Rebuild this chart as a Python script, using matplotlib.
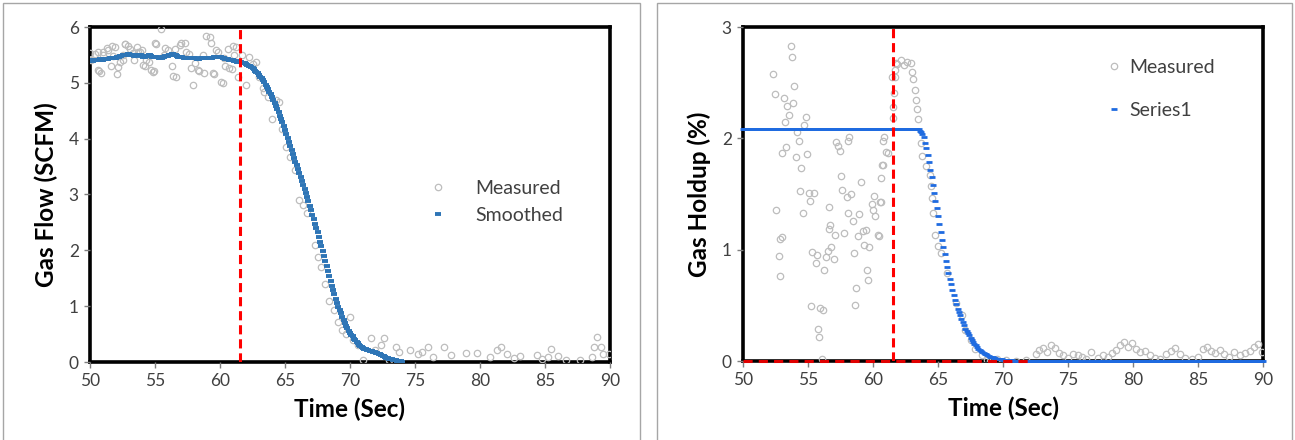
import numpy as np
import matplotlib
matplotlib.use("Agg")
import matplotlib.pyplot as plt
from matplotlib.lines import Line2D
from matplotlib.patches import Rectangle

plt.rcParams["font.family"] = ["Lato", "DejaVu Sans"]

# ---------------- left panel: gas flow ----------------
flow_meas_t = [
    50.0, 50.06, 50.4, 50.64, 50.64, 50.7, 50.84, 51.0, 51.02, 51.28, 51.4, 51.6, 51.66, 51.79, 51.9,
    52.05, 52.17, 52.3, 52.5, 52.55, 52.68, 52.7, 52.9, 53.1, 53.32, 53.4, 53.58, 53.7, 53.83, 54.0,
    54.09, 54.2, 54.34, 54.5, 54.73, 54.85, 54.9, 54.98, 55.1, 55.44, 55.7, 55.75, 56.0, 56.3, 56.39,
    56.51, 56.6, 56.9, 57.02, 57.28, 57.41, 57.6, 57.79, 57.92, 58.05, 58.3, 58.4, 58.68, 58.75, 58.94,
    59.2, 59.32, 59.45, 59.5, 59.7, 59.83, 60.09, 60.2, 60.34, 60.4, 60.6, 60.73, 60.9, 60.98, 61.11,
    61.2, 61.4, 61.7, 62.0, 62.2, 62.5, 62.8, 63.0, 63.3, 63.4, 63.7, 64.0, 64.3, 64.5, 64.8,
    65.1, 65.4, 65.8, 66.1, 66.4, 66.7, 67.3, 67.5, 67.8, 68.1, 68.4, 68.8, 69.1, 69.4, 69.7,
    70.0, 70.2, 70.6, 71.0, 71.6, 71.9, 72.4, 72.6, 73.0, 73.5, 73.8, 74.6, 75.2, 75.5, 76.0,
    76.4, 77.2, 77.8, 78.9, 79.8, 80.8, 81.3, 81.6, 82.1, 82.6, 83.1, 84.4, 84.8, 85.2, 85.5,
    86.0, 86.6, 87.7, 88.6, 88.8, 89.0, 89.3, 89.5, 89.9,
]
flow_meas_v = [
    5.53, 5.40, 5.52, 5.56, 5.23, 5.22, 5.18, 5.49, 5.56, 5.62, 5.58, 5.31, 5.66, 5.48, 5.64,
    5.16, 5.29, 5.37, 5.49, 5.41, 5.70, 5.70, 5.66, 5.61, 5.53, 5.40, 5.65, 5.55, 5.56, 5.58,
    5.32, 5.31, 5.41, 5.37, 5.23, 5.20, 5.22, 5.71, 5.70, 5.97, 5.49, 5.62, 5.58, 5.31, 5.13,
    5.60, 5.10, 5.68, 5.71, 5.71, 5.56, 5.52, 5.26, 4.96, 5.35, 5.23, 5.22, 5.50, 5.18, 5.84,
    5.82, 5.71, 5.17, 5.16, 5.58, 5.56, 5.02, 4.99, 5.44, 5.31, 5.61, 5.26, 5.25, 5.66, 5.50,
    5.64, 5.10, 5.49, 4.96, 5.46, 5.34, 5.37, 5.10, 4.90, 4.84, 4.75, 4.36, 4.69, 4.66, 4.18,
    3.85, 3.67, 3.43, 2.90, 2.81, 2.66, 2.09, 1.88, 1.70, 1.40, 1.10, 0.93, 0.72, 0.57, 0.51,
    0.81, 0.39, 0.30, 0.03, 0.43, 0.21, 0.30, 0.43, 0.03, 0.26, 0.18, 0.21, 0.15, 0.18, 0.27,
    0.09, 0.27, 0.12, 0.16, 0.16, 0.09, 0.22, 0.27, 0.15, 0.08, 0.10, 0.12, 0.06, 0.09, 0.24,
    0.10, 0.04, 0.04, 0.09, 0.27, 0.44, 0.27, 0.15, 0.15,
]
# smoothed gas flow, one value every 0.1 s from 50.0 to 74.0
flow_smooth_t = np.round(np.arange(50.0, 74.05, 0.1), 1)
flow_smooth_v = [
    5.40, 5.40, 5.39, 5.40, 5.40, 5.41, 5.40, 5.41, 5.42, 5.41,
    5.41, 5.42, 5.42, 5.43, 5.43, 5.44, 5.44, 5.45, 5.45, 5.45,
    5.45, 5.46, 5.47, 5.48, 5.48, 5.49, 5.49, 5.50, 5.50, 5.51,
    5.51, 5.50, 5.50, 5.49, 5.48, 5.48, 5.49, 5.50, 5.50, 5.49,
    5.48, 5.47, 5.47, 5.48, 5.48, 5.49, 5.49, 5.48, 5.47, 5.47,
    5.47, 5.46, 5.46, 5.45, 5.45, 5.45, 5.46, 5.47, 5.48, 5.48,
    5.48, 5.49, 5.50, 5.51, 5.51, 5.50, 5.49, 5.48, 5.47, 5.47,
    5.46, 5.46, 5.45, 5.45, 5.45, 5.45, 5.44, 5.44, 5.44, 5.44,
    5.44, 5.44, 5.43, 5.43, 5.43, 5.44, 5.44, 5.44, 5.44, 5.44,
    5.44, 5.44, 5.45, 5.45, 5.45, 5.46, 5.46, 5.47, 5.47, 5.47,
    5.47, 5.46, 5.45, 5.44, 5.43, 5.42, 5.42, 5.41, 5.41, 5.40,
    5.40, 5.39, 5.39, 5.38, 5.38, 5.37, 5.37, 5.36, 5.36, 5.35,
    5.33, 5.32, 5.31, 5.30, 5.28, 5.26, 5.24, 5.22, 5.20, 5.17,
    5.14, 5.11, 5.08, 5.05, 5.01, 4.97, 4.93, 4.89, 4.84, 4.80,
    4.75, 4.70, 4.64, 4.59, 4.53, 4.47, 4.41, 4.35, 4.29, 4.22,
    4.15, 4.08, 4.01, 3.94, 3.87, 3.80, 3.73, 3.66, 3.59, 3.52,
    3.45, 3.38, 3.31, 3.24, 3.17, 3.10, 3.03, 2.96, 2.88, 2.80,
    2.72, 2.64, 2.56, 2.48, 2.40, 2.32, 2.24, 2.15, 2.07, 1.98,
    1.90, 1.81, 1.72, 1.63, 1.54, 1.45, 1.37, 1.29, 1.21, 1.13,
    1.05, 0.99, 0.93, 0.87, 0.81, 0.75, 0.70, 0.65, 0.61, 0.56,
    0.52, 0.49, 0.46, 0.42, 0.39, 0.36, 0.34, 0.31, 0.29, 0.27,
    0.25, 0.24, 0.23, 0.22, 0.21, 0.20, 0.20, 0.19, 0.18, 0.18,
    0.17, 0.16, 0.15, 0.14, 0.12, 0.11, 0.10, 0.09, 0.08, 0.07,
    0.06, 0.06, 0.05, 0.04, 0.04, 0.03, 0.02, 0.02, 0.01, 0.01,
    0.00,
]

# ---------------- right panel: gas holdup ----------------
hold_meas_t = [
    53.67, 53.78, 52.32, 52.45, 53.16, 53.42, 53.85, 53.93, 53.54, 53.26, 54.18, 54.87, 54.69, 54.28, 53.34,
    53.0, 54.11, 54.92, 54.44, 57.17, 57.29, 57.47, 58.19, 58.06, 57.57, 54.36, 55.07, 55.43, 55.18, 52.52,
    54.62, 56.58, 57.62, 58.31, 57.98, 59.05, 60.10, 59.92, 59.97, 60.17, 60.53, 58.06, 58.95, 58.49, 59.21,
    59.46, 58.82, 57.75, 57.09, 56.71, 56.61, 60.35, 59.72, 59.33, 58.57, 52.83, 53.01, 52.78, 52.88, 55.33,
    55.69, 55.59, 56.35, 56.53, 56.78, 56.99, 56.22, 59.54, 59.59, 58.70, 58.65, 55.25, 55.89, 56.15, 55.76,
    55.81, 56.09, 60.86, 60.99, 61.12, 60.74, 60.61, 60.79, 61.68, 61.8, 61.88, 62.14, 62.39, 62.65, 62.91,
    63.03, 63.11, 63.24, 63.34, 63.41, 63.49, 61.63, 61.55, 61.5, 61.45, 61.7, 60.69, 60.6, 60.48, 63.67,
    63.8, 64.06, 64.36, 64.44, 64.51, 64.64, 64.77, 65.02, 65.2, 65.71, 66.35, 66.86, 67.11, 67.5, 67.88,
    68.39, 68.77, 69.0, 69.5, 70.2, 71.0, 71.8, 72.5, 72.8, 73.1, 73.4, 73.7, 74.0, 74.3, 74.6,
    75.0, 75.4, 75.8, 76.1, 76.4, 76.8, 77.3, 77.7, 78.1, 78.4, 78.7, 79.0, 79.3, 79.6, 79.9,
    80.2, 80.5, 80.9, 81.3, 81.7, 82.1, 82.5, 82.9, 83.2, 83.6, 84.0, 84.5, 85.0, 85.4, 85.7,
    86.0, 86.3, 86.7, 87.0, 87.4, 87.8, 88.2, 88.6, 89.0, 89.3, 89.6, 89.9,
]
hold_meas_v = [
    2.83, 2.73, 2.58, 2.40, 2.36, 2.29, 2.32, 2.47, 2.21, 2.15, 2.06, 2.19, 2.12, 1.98, 1.92,
    1.87, 1.83, 1.86, 1.73, 1.97, 1.93, 1.89, 2.01, 1.98, 1.66, 1.53, 1.51, 1.51, 1.44, 1.36,
    1.33, 1.38, 1.54, 1.50, 1.47, 1.61, 1.48, 1.41, 1.36, 1.30, 1.43, 1.33, 1.32, 1.26, 1.17,
    1.18, 1.12, 1.15, 1.13, 1.22, 1.19, 1.13, 1.02, 1.04, 0.97, 1.10, 1.11, 0.94, 0.76, 0.98,
    0.95, 0.88, 0.93, 0.99, 1.02, 0.92, 0.82, 0.82, 0.73, 0.66, 0.50, 0.49, 0.48, 0.46, 0.29,
    0.22, 0.02, 2.01, 1.88, 1.87, 1.76, 1.64, 1.98, 2.55, 2.68, 2.67, 2.70, 2.66, 2.69, 2.68,
    2.60, 2.53, 2.43, 2.34, 2.26, 2.17, 2.41, 2.28, 2.18, 2.55, 2.61, 1.76, 1.43, 1.12, 1.96,
    1.84, 1.75, 1.67, 1.57, 1.46, 1.33, 1.13, 1.03, 0.97, 0.79, 0.52, 0.41, 0.28, 0.19, 0.11,
    0.05, 0.01, 0.00, 0.02, 0.01, 0.00, 0.01, 0.06, 0.10, 0.12, 0.08, 0.14, 0.12, 0.07, 0.05,
    0.03, 0.06, 0.05, 0.04, 0.02, 0.08, 0.03, 0.05, 0.04, 0.07, 0.10, 0.14, 0.17, 0.13, 0.16,
    0.11, 0.08, 0.09, 0.05, 0.03, 0.02, 0.06, 0.09, 0.12, 0.06, 0.03, 0.02, 0.04, 0.11, 0.13,
    0.09, 0.07, 0.10, 0.06, 0.04, 0.08, 0.05, 0.07, 0.09, 0.13, 0.15, 0.08,
]
# Series1 (smoothed holdup): plateau, then values every 0.1 s from 63.5 to 71.9
hold_plateau = 2.08
hold_drop_v = [
    2.08, 2.07, 2.06, 2.04, 2.01,
    1.96, 1.91, 1.85, 1.79, 1.72, 1.65, 1.58, 1.51, 1.44, 1.37,
    1.30, 1.23, 1.16, 1.09, 1.02, 0.96, 0.90, 0.84, 0.79, 0.74,
    0.69, 0.64, 0.59, 0.55, 0.51, 0.47, 0.44, 0.41, 0.38, 0.35,
    0.32, 0.29, 0.27, 0.25, 0.23, 0.21, 0.19, 0.17, 0.155, 0.14,
    0.125, 0.11, 0.10, 0.09, 0.08, 0.07, 0.065, 0.06, 0.05, 0.045,
    0.04, 0.036, 0.032, 0.028, 0.025, 0.022, 0.02, 0.018, 0.016, 0.014,
    0.012, 0.011, 0.01, 0.009, 0.008, 0.007, 0.006, 0.005, 0.004, 0.004,
    0.003, 0.003, 0.002, 0.002, 0.002, 0.001, 0.001, 0.001, 0.001, 0.0,
]
hold_t = np.round(np.arange(50.0, 90.05, 0.1), 1)
n_plateau = int(round((63.5 - 50.0) / 0.1))
hold_v = np.concatenate([
    np.full(n_plateau, hold_plateau),
    hold_drop_v,
    np.zeros(len(hold_t) - n_plateau - len(hold_drop_v)),
])

cutoff_time = 61.5

# ---------------- styling ----------------
W, H = 1295, 440
fig = plt.figure(figsize=(W / 100, H / 100), dpi=100)
for x0, x1 in [(3, 640), (657, 1292)]:
    fig.patches.append(Rectangle((x0 / W, -0.01), (x1 - x0) / W, (H - 3) / H + 0.01,
                                 transform=fig.transFigure, fill=False,
                                 ec="#A6A6A6", lw=1.0))

ax1 = fig.add_axes([90 / W, 78 / H, 520 / W, 335 / H])
ax2 = fig.add_axes([743 / W, 79 / H, 520 / W, 334 / H])

meas_style = dict(ls="", marker="o", mfc="none", mec="#BDBDBD", ms=4.6, mew=0.9)
smooth_style = dict(ls="", marker="_", color="#2E75B6", ms=4.8, mew=2.8)
series_style = dict(ls="", marker="_", color="#1F6BE0", ms=4.6, mew=2.0)

# left
ax1.plot(flow_meas_t, flow_meas_v, zorder=2, **meas_style)
ax1.plot(flow_smooth_t, flow_smooth_v, zorder=3, **smooth_style)
ax1.axvline(cutoff_time, color="#FF0000", lw=2.2, ls=(0, (3, 1.6)), zorder=4)
ax1.set_ylim(0, 6)
ax1.set_yticks(range(0, 7))
ax1.set_ylabel("Gas Flow (SCFM)", fontsize=17.5, fontweight="bold", labelpad=8)

# right
ax2.plot(hold_meas_t, hold_meas_v, zorder=2, **meas_style)
ax2.plot(hold_t, hold_v, zorder=3, clip_on=False, **series_style)
ax2.axvline(cutoff_time, color="#FF0000", lw=2.2, ls=(0, (3, 1.6)), zorder=4)
ax2.plot([50, 72], [0, 0], color="#E00000", lw=2.2, ls=(0, (3, 2)), zorder=5, clip_on=False)
ax2.set_ylim(0, 3)
ax2.set_yticks(range(0, 4))
ax2.set_ylabel("Gas Holdup (%)", fontsize=17.5, fontweight="bold", labelpad=8)

for ax in (ax1, ax2):
    ax.set_xlim(50, 90)
    ax.set_xticks(range(50, 91, 5))
    ax.set_xlabel("Time (Sec)", fontsize=17.5, fontweight="bold", labelpad=6)
    for side in ("top", "bottom", "left", "right"):
        ax.spines[side].set_linewidth(2.6)
        ax.spines[side].set_color("black")
        ax.spines[side].set_zorder(1)
    ax.tick_params(direction="out", length=4, width=1, color="#7F7F7F",
                   labelsize=12.5, labelcolor="#404040", pad=4)

h_meas = Line2D([], [], **meas_style)
h_smooth = Line2D([], [], **smooth_style)
h_series = Line2D([], [], **series_style)

ax1.legend([h_meas, h_smooth], ["Measured", "Smoothed"], loc="center left",
           bbox_to_anchor=(0.617, 0.478), frameon=False, fontsize=14,
           handlelength=1.0, handletextpad=1.4, labelspacing=0.55,
           labelcolor="#404040")
ax2.legend([h_meas, h_series], ["Measured", "Series1"], loc="center left",
           bbox_to_anchor=(0.668, 0.815), frameon=False, fontsize=14,
           handlelength=0.6, handletextpad=0.5, labelspacing=1.35,
           labelcolor="#404040")

fig.savefig("out.png", dpi=100)
